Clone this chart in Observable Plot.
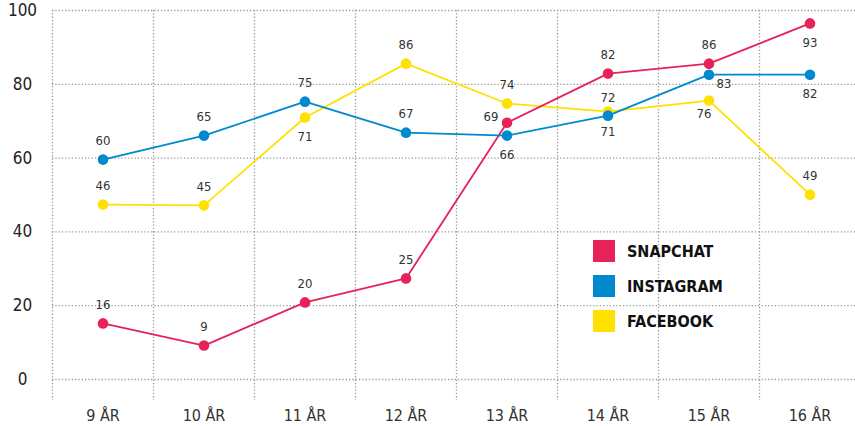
<!DOCTYPE html>
<html>
<head>
<meta charset="utf-8">
<script src="https://cdn.jsdelivr.net/npm/d3@7"></script>
<script src="https://cdn.jsdelivr.net/npm/@observablehq/plot@0.6"></script>
<style>
  html, body { margin: 0; padding: 0; background: #fff; overflow: hidden; }
  #wrap { position: relative; width: 855px; height: 426px; font-family: "DejaVu Sans Condensed", "Liberation Sans Narrow", "Roboto", sans-serif; }
  #legend { position: absolute; left: 593px; top: 240px; }
  .item { display: flex; align-items: center; height: 22px; margin-bottom: 13px; }
  .sw { width: 22px; height: 22px; margin-right: 12px; }
  .lab { font-weight: bold; font-size: 16px; color: #111; letter-spacing: 0; }
</style>
</head>
<body>
<div id="wrap"><div id="legend"></div></div>
<script>
// ---- data ----
const categories = ["9 ÅR", "10 ÅR", "11 ÅR", "12 ÅR", "13 ÅR", "14 ÅR", "15 ÅR", "16 ÅR"];
const seriesNames = ["SNAPCHAT", "INSTAGRAM", "FACEBOOK"];
// values as plotted in the picture
const snapchat  = [15.2, 9.2, 20.9, 27.4, 69.6, 82.9, 85.6, 96.5];
const instagram = [59.6, 66.1, 75.3, 66.9, 66.1, 71.5, 82.6, 82.6];
const facebook  = [47.4, 47.2, 71.0, 85.6, 74.8, 72.6, 75.6, 50.1];
// printed value labels
const snapchatLabels  = ["16", "9", "20", "25", "69", "82", "86", "93"];
const instagramLabels = ["60", "65", "75", "67", "66", "71", "83", "82"];
const facebookLabels  = ["46", "45", "71", "86", "74", "72", "76", "49"];
const yTicks = [0, 20, 40, 60, 80, 100];

// ---- style config ----
const colors = {SNAPCHAT: "#e62258", INSTAGRAM: "#0089cf", FACEBOOK: "#ffe100"};
const placement = {
  SNAPCHAT:  ["t", "t", "t", "t", "l", "t", "t", "b"],
  INSTAGRAM: ["t", "t", "t", "t", "b", "b2", "br", "b"],
  FACEBOOK:  ["t", "t", "b", "t", "t", "t2", "bl", "t"]
};
const offsets = {
  t: [0, -19], b: [0, 19], t2: [0, -14], b2: [0, 16],
  l: [-16, -6], br: [15, 9], bl: [-5, 13]
};

const seriesData = {SNAPCHAT: snapchat, INSTAGRAM: instagram, FACEBOOK: facebook};
const seriesLabels = {SNAPCHAT: snapchatLabels, INSTAGRAM: instagramLabels, FACEBOOK: facebookLabels};
const rows = [];
for (const s of seriesNames) {
  categories.forEach((c, i) => rows.push({cat: c, series: s, value: seriesData[s][i], label: seriesLabels[s][i], place: placement[s][i]}));
}
const drawOrder = ["FACEBOOK", "SNAPCHAT", "INSTAGRAM"];

const W = 855, H = 426, mL = 52, mR = -5;
const bw = (W - mL - mR) / categories.length;

const marks = [
  Plot.ruleY(yTicks, {y: d => d, stroke: "#9a9a9a", strokeWidth: 1.3, strokeDasharray: "1.3,2"}),
  Plot.ruleX(categories, {x: d => d, dx: -bw / 2, stroke: "#9a9a9a", strokeWidth: 1.3, strokeDasharray: "1.3,2", insetBottom: -21}),
  Plot.axisY({ticks: yTicks, tickSize: 0, tickPadding: 30, textAnchor: "middle", fontSize: 17, fill: "#222"}),
  Plot.axisX({tickSize: 0, tickPadding: 30, fontSize: 16, fill: "#333"})
];
for (const s of drawOrder) {
  const d = rows.filter(r => r.series === s);
  marks.push(Plot.line(d, {x: "cat", y: "value", stroke: colors[s], strokeWidth: 1.8}));
  marks.push(Plot.dot(d, {x: "cat", y: "value", r: 5.3, fill: colors[s]}));
}
for (const [k, [dx, dy]] of Object.entries(offsets)) {
  marks.push(Plot.text(rows.filter(r => r.place === k), {x: "cat", y: "value", text: "label", dx, dy, fontSize: 13, fill: "#333"}));
}

const chart = Plot.plot({
  width: W, height: H,
  marginLeft: mL, marginRight: mR, marginTop: 10, marginBottom: 47,
  style: {fontFamily: '"DejaVu Sans Condensed", "Liberation Sans Narrow", "Roboto", sans-serif', background: "#fff"},
  x: {type: "band", domain: categories, padding: 0, label: null},
  y: {domain: [0, 100], label: null},
  marks
});
const wrap = document.getElementById("wrap");
wrap.insertBefore(chart, wrap.firstChild);

const legend = document.getElementById("legend");
for (const s of seriesNames) {
  const it = document.createElement("div");
  it.className = "item";
  it.innerHTML = `<div class="sw" style="background:${colors[s]}"></div><div class="lab">${s}</div>`;
  legend.appendChild(it);
}
</script>
</body>
</html>
